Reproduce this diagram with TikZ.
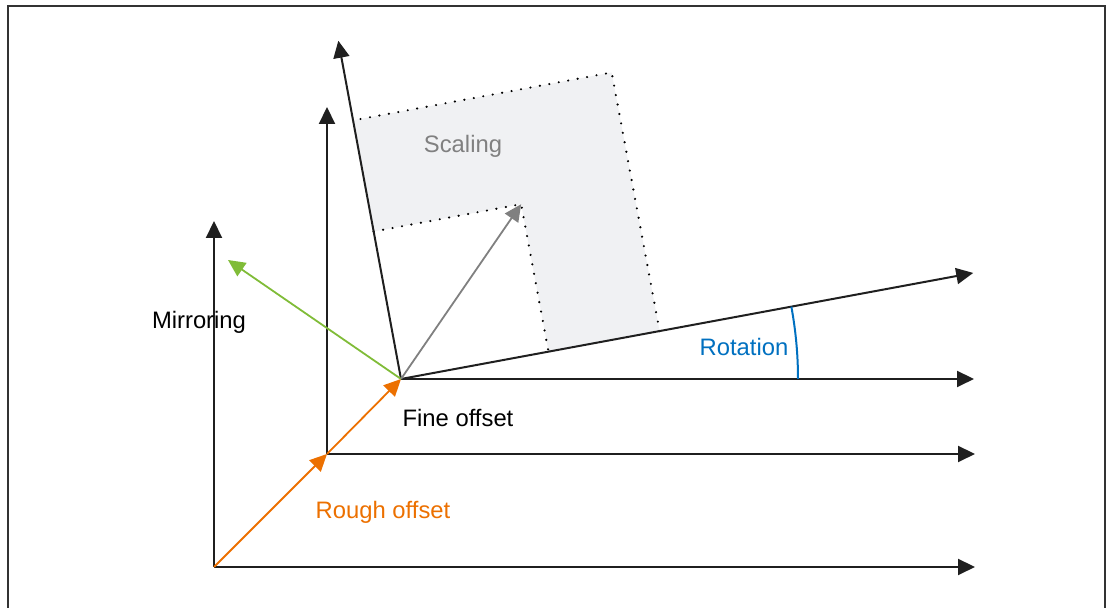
\documentclass[tikz,border=0pt]{standalone}
\usepackage{fontspec}
\setmainfont{Liberation Sans}
\usetikzlibrary{arrows.meta,calc}
\definecolor{roughorange}{RGB}{236,112,0}
\definecolor{mirrorgreen}{RGB}{128,188,56}
\definecolor{rotblue}{RGB}{0,112,192}
\definecolor{scalefill}{RGB}{240,241,243}
\begin{document}
\begin{tikzpicture}[x=0.5pt,y=0.5pt,
  axis/.style={line width=1pt, draw=black!88, -{Triangle[length=8.5pt,width=8pt]}},
  vec/.style={line width=0.9pt, -{Triangle[length=8.5pt,width=8pt]}},
  lbl/.style={font=\fontsize{11.9}{14}\selectfont, inner sep=0pt}]
\useasboundingbox (0,0) rectangle (1109,608);
\draw[line width=1pt, black!80] (8,-10) -- (8,602) -- (1105,602) -- (1105,-10);
% origins
\coordinate (base) at (214,41);
\coordinate (rough) at (327,154);
\coordinate (fine) at (401,229);
\coordinate (baseX) at (975,41);
\coordinate (baseY) at (214,387);
\coordinate (roughX) at (975,154);
\coordinate (roughY) at (327,501);
\coordinate (fineX) at (974,229);
\coordinate (mirror) at (228,348);
% rotated and scaled frame
\begin{scope}[shift={(fine)}, rotate=10.5]
  \fill[scalefill] (0,150) -- (150,150) -- (150,0) -- (263,0) -- (263,263) -- (0,263) -- cycle;
  \draw[line width=1.2pt, line cap=round, dash pattern=on 0pt off 4.8pt] (0,150) -- (150,150) -- (150,0);
  \draw[line width=1.2pt, line cap=round, dash pattern=on 0pt off 4.8pt] (263,0) -- (263,263) -- (0,263);
  \coordinate (rotX) at (582,0);
  \coordinate (rotY) at (0,344);
  \coordinate (scaled) at (150,150);
\end{scope}
\draw[axis] (base) -- (baseX);
\draw[axis] (base) -- (baseY);
\draw[axis] (rough) -- (roughX);
\draw[axis] (rough) -- (roughY);
\draw[axis] (fine) -- (fineX);
\draw[axis] (fine) -- (rotX);
\draw[axis] (fine) -- (rotY);
\draw[vec, roughorange] (base) -- (rough);
\draw[vec, roughorange] (rough) -- (fine);
\draw[vec, mirrorgreen] (fine) -- (mirror);
\draw[vec, black!50] (fine) -- (scaled);
\draw[rotblue, line width=1pt] ($(fine)+(397,0)$) arc[start angle=0, end angle=10.5, radius=198.5pt];
% labels
\node[lbl, text=black!50] (scaling) at (463,462) {Scaling};
\node[lbl] (mirroring) at (199,286) {Mirroring};
\node[lbl] (fineoff) at (458,190) {Fine offset};
\node[lbl, text=roughorange] (roughoff) at (383,96) {Rough offset};
\node[lbl, text=rotblue] (rotation) at (744,261) {Rotation};
\end{tikzpicture}
\end{document}
